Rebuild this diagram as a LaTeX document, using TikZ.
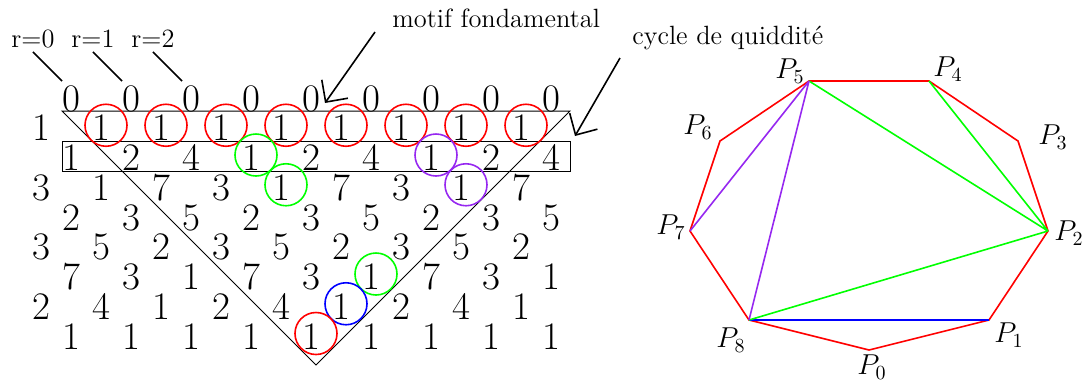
\documentclass[tikz,border=0pt]{standalone}
\usetikzlibrary{calc,arrows.meta}
\definecolor{vio}{RGB}{150,40,240}
\definecolor{grn}{RGB}{0,255,0}
\begin{document}
\begin{tikzpicture}[x=0.5pt,y=-0.5pt,
  dig/.style={inner sep=0pt,anchor=base,font=\fontsize{19.5}{22}\selectfont},
  lab/.style={inner sep=0pt,anchor=base west,font=\fontsize{13.2}{15}\selectfont},
  plab/.style={inner sep=0pt,font=\fontsize{14.5}{17}\selectfont},
  thinl/.style={line width=0.5pt},
  ring/.style={line width=0.8pt},
  edge/.style={line width=0.8pt},
  pointer/.style={line width=0.8pt,-{Straight Barb[length=8pt,width=16pt]}}
]
\useasboundingbox (0,0) rectangle (1088,382);
% frieze
\foreach \rw/\xo/\vals in {0/71/{0,0,0,0,0,0,0,0,0},1/41/{1,1,1,1,1,1,1,1,1},2/71/{1,2,4,1,2,4,1,2,4},3/41/{3,1,7,3,1,7,3,1,7},4/71/{2,3,5,2,3,5,2,3,5},5/41/{3,5,2,3,5,2,3,5,2},6/71/{7,3,1,7,3,1,7,3,1},7/41/{2,4,1,2,4,1,2,4,1},8/71/{1,1,1,1,1,1,1,1,1}}{
  \foreach \v [count=\cl from 0] in \vals {
    \node[dig] (d\rw-\cl) at ({\xo+60*\cl},{111+29.75*\rw}) {\v};
  }
}
% triangle and rectangle
\coordinate (TL) at (62,111);
\coordinate (TR) at (570,111);
\coordinate (B) at (316,365);
\draw[thinl] (TL) -- (TR) -- (B) -- cycle;
\coordinate (R1) at (62,141);
\coordinate (R2) at (570,171);
\draw[thinl] (R1) rectangle (R2);
% circles
\foreach \n/\col in {d1-1/red,d1-2/red,d1-3/red,d1-4/red,d1-5/red,d1-6/red,d1-7/red,d1-8/red,d2-3/grn,d3-4/grn,d6-5/grn,d2-6/vio,d3-7/vio,d7-5/blue,d8-4/red}
  \draw[ring,\col] ($(\n.base)+(5,-15.5)$) circle[radius=10.5pt];
% r labels
\node[lab] (r0) at (11,47) {r=0};
\node[lab] (r1) at (71,47) {r=1};
\node[lab] (r2) at (131,47) {r=2};
\draw[edge] ($(r0.base)+(0,5)$) -- ($(d0-0.base)+(-9,-30)$);
\draw[edge] ($(r1.base)+(0,5)$) -- ($(d0-1.base)+(-9,-30)$);
\draw[edge] ($(r2.base)+(0,5)$) -- ($(d0-2.base)+(-9,-30)$);
% annotations
\node[lab] (mf) at (392,27) {motif fondamental};
\node[lab] (cq) at (632,44) {cycle de quiddit\'e};
\draw[pointer] ($(mf.base west)+(-17,5)$) -- ($(d0-4.base)+(14,-8)$);
\draw[pointer] ($(cq.base west)+(-12,14)$) -- ($(TR)+(5,25)$);
% polygon
\coordinate (P0) at (869,350);
\coordinate (P1) at (989,320);
\coordinate (P2) at (1048,231);
\coordinate (P3) at (1018,141);
\coordinate (P4) at (929,81);
\coordinate (P5) at (809,81);
\coordinate (P6) at (720,141);
\coordinate (P7) at (690,231);
\coordinate (P8) at (749,320);
\draw[edge,red] (P0)--(P1)--(P2)--(P3)--(P4)--(P5)--(P6)--(P7)--(P8)--cycle;
\draw[edge,blue] (P8)--(P1);
\draw[edge,grn] (P8)--(P2) (P2)--(P5) (P2)--(P4);
\draw[edge,vio] (P8)--(P5) (P5)--(P7);
\node[plab] (L5) at (790,71) {$P_5$};
\node[plab] (L4) at (948,69) {$P_4$};
\node[plab] (L3) at (1053,137) {$P_3$};
\node[plab] (L2) at (1069,233) {$P_2$};
\node[plab] (L1) at (1009,335) {$P_1$};
\node[plab] (L0) at (872,367) {$P_0$};
\node[plab] (L8) at (731,340) {$P_8$};
\node[plab] (L7) at (671,227) {$P_7$};
\node[plab] (L6) at (698,127) {$P_6$};
\end{tikzpicture}
\end{document}
